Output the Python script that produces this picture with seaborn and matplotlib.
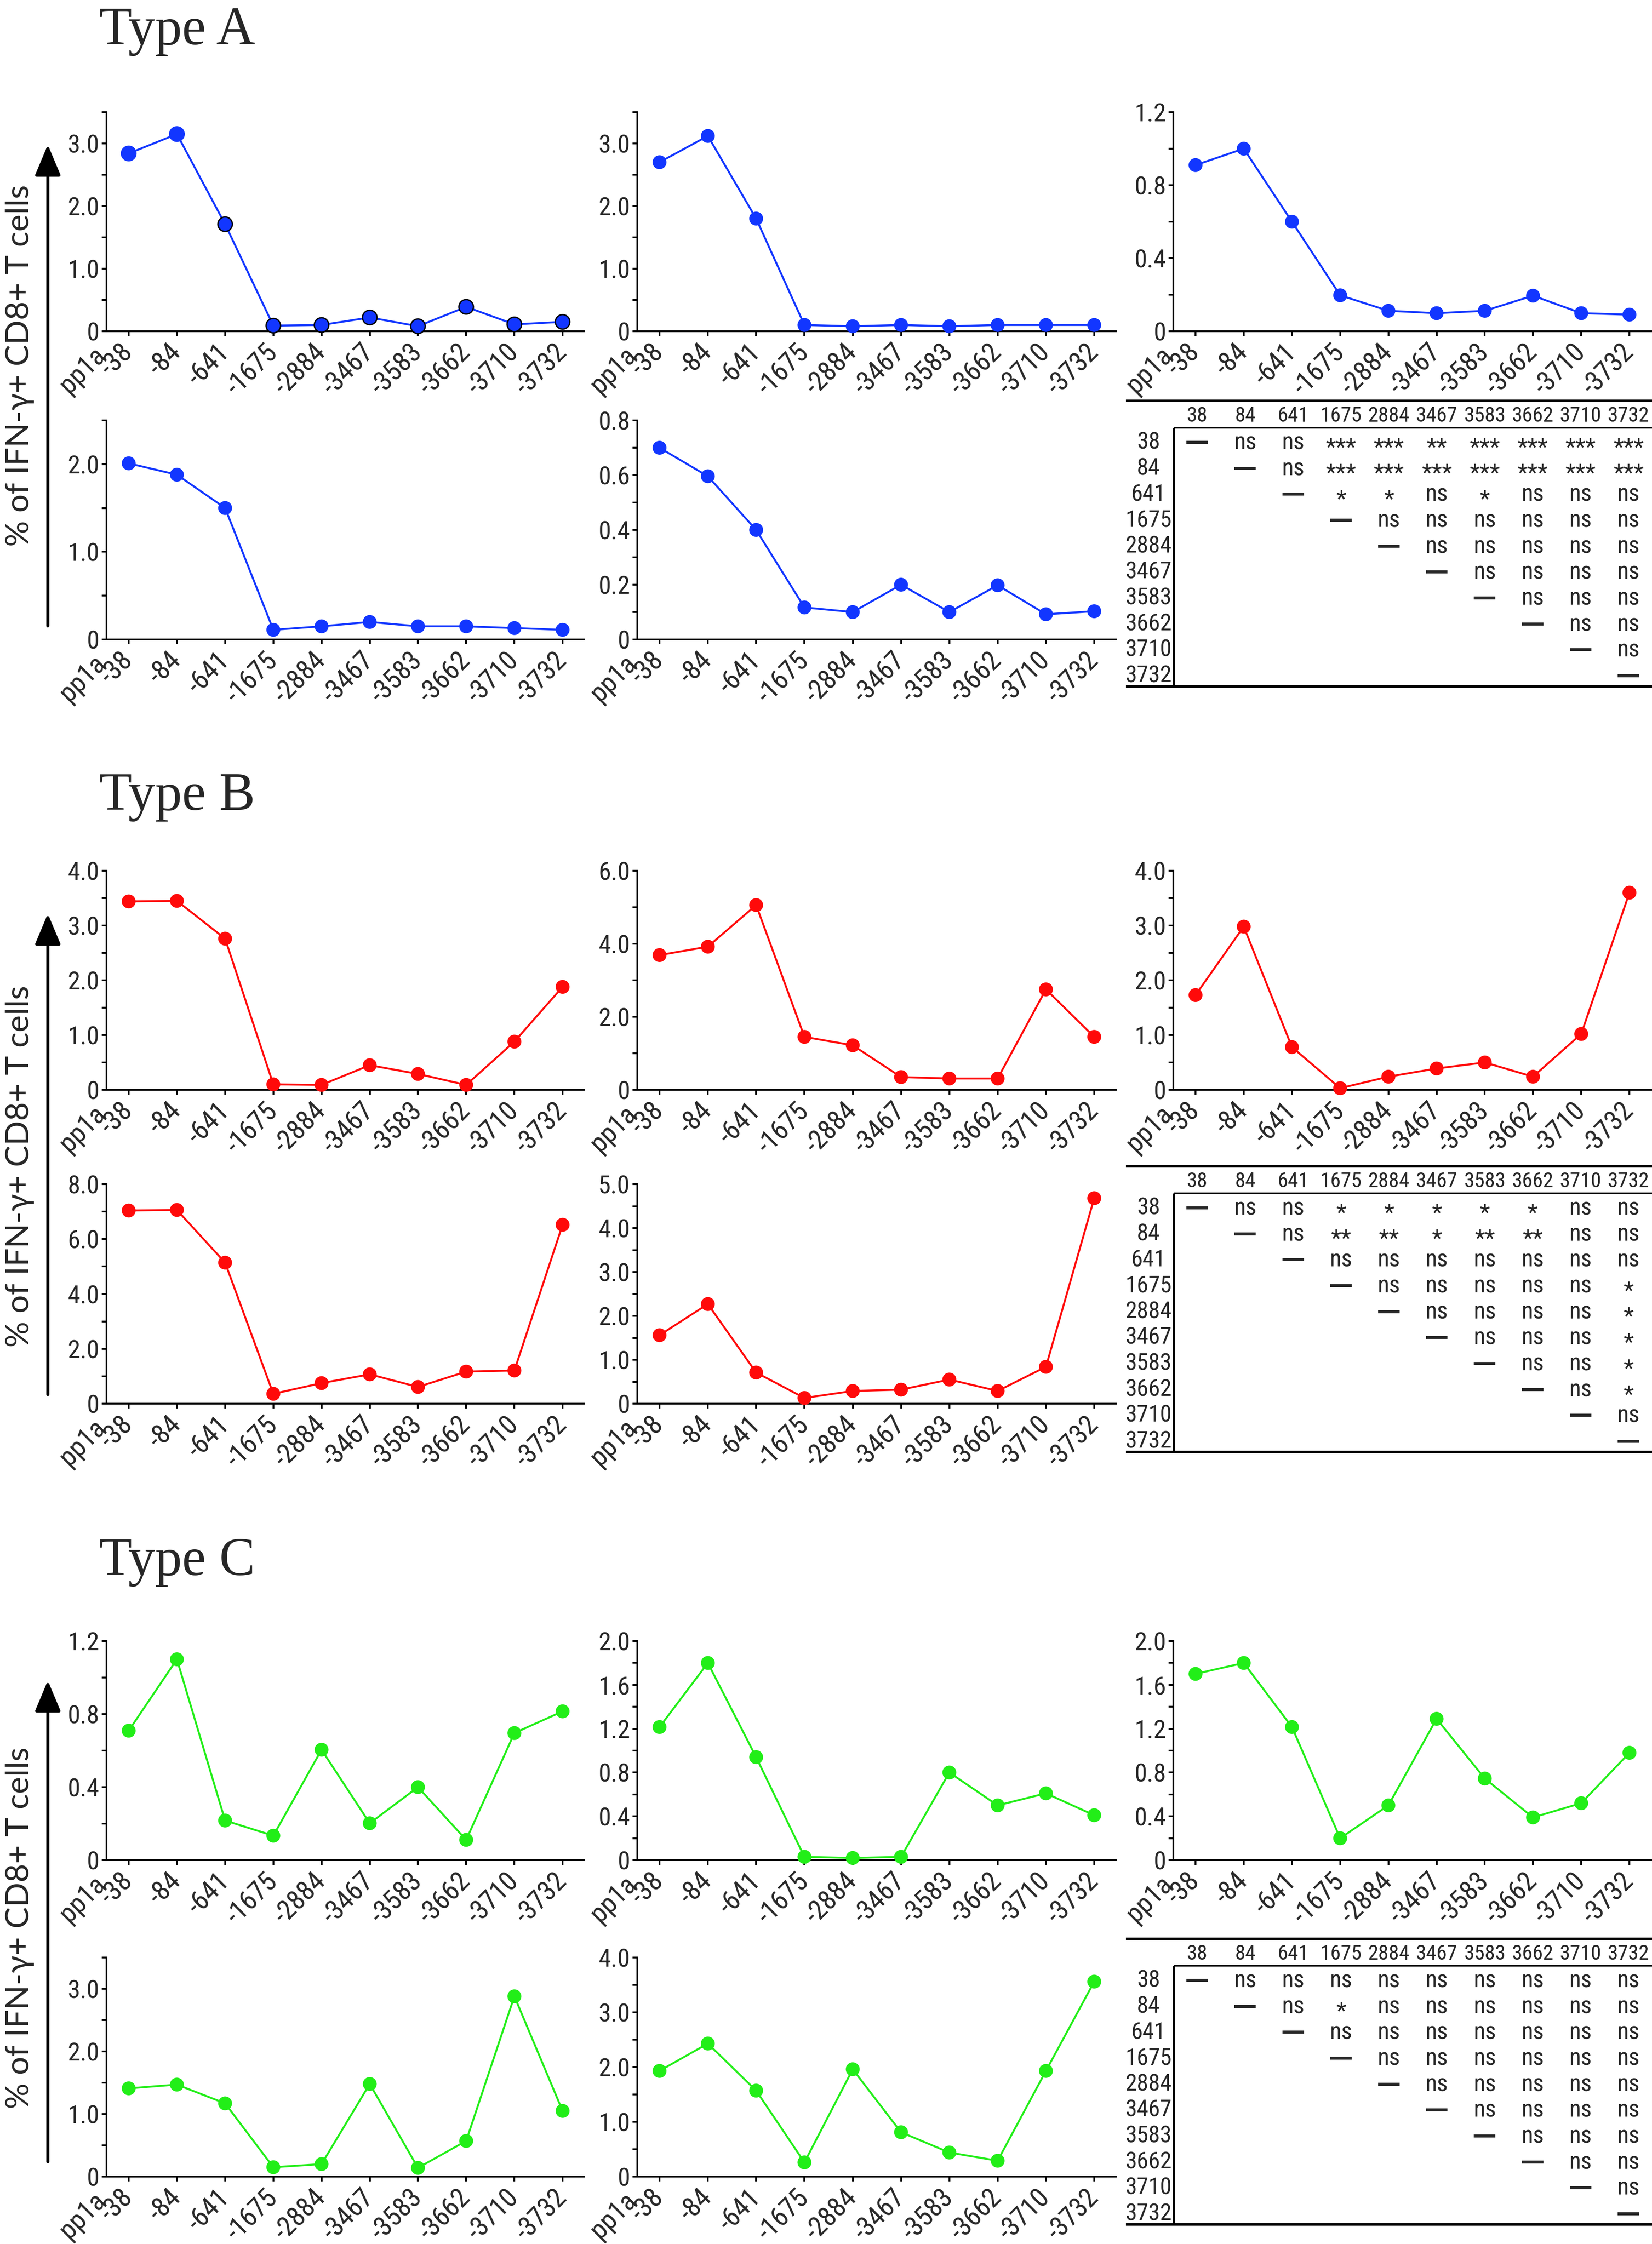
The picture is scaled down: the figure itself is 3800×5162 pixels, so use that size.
import numpy as np
import pandas as pd
import matplotlib
matplotlib.use("Agg")
import matplotlib.pyplot as plt
import seaborn as sns
from matplotlib import font_manager as fm
from matplotlib import transforms as mtransforms
from matplotlib.patches import FancyArrowPatch
from matplotlib.ticker import FixedLocator, FuncFormatter

# ---------------- data ----------------
categories = ['-38', '-84', '-641', '-1675', '-2884', '-3467', '-3583', '-3662', '-3710', '-3732']
first_prefix = 'pp1a'
table_labels = ['38', '84', '641', '1675', '2884', '3467', '3583', '3662', '3710', '3732']
ylabel_text = '% of IFN-\u03b3+ CD8+ T cells'
group_titles = ['Type A', 'Type B', 'Type C']

a1 = [2.84, 3.15, 1.71, 0.09, 0.10, 0.22, 0.08, 0.39, 0.11, 0.15]
a2 = [2.70, 3.12, 1.80, 0.10, 0.08, 0.10, 0.08, 0.10, 0.10, 0.10]
a3 = [0.91, 1.00, 0.60, 0.197, 0.112, 0.099, 0.112, 0.195, 0.099, 0.091]
a4 = [2.01, 1.88, 1.50, 0.11, 0.15, 0.20, 0.15, 0.15, 0.13, 0.11]
a5 = [0.70, 0.596, 0.40, 0.117, 0.10, 0.20, 0.10, 0.198, 0.092, 0.103]

b1 = [3.44, 3.45, 2.76, 0.10, 0.09, 0.45, 0.29, 0.09, 0.88, 1.88]
b2 = [3.69, 3.92, 5.06, 1.45, 1.22, 0.35, 0.31, 0.31, 2.75, 1.45]
b3 = [1.73, 2.98, 0.78, 0.03, 0.24, 0.39, 0.50, 0.24, 1.02, 3.60]
b4 = [7.04, 7.06, 5.14, 0.36, 0.75, 1.07, 0.61, 1.17, 1.21, 6.52]
b5 = [1.56, 2.27, 0.71, 0.13, 0.29, 0.32, 0.55, 0.29, 0.84, 4.68]

c1 = [0.709, 1.10, 0.217, 0.134, 0.605, 0.202, 0.40, 0.111, 0.696, 0.815]
c2 = [1.215, 1.80, 0.94, 0.03, 0.02, 0.03, 0.80, 0.50, 0.61, 0.41]
c3 = [1.70, 1.80, 1.215, 0.20, 0.50, 1.29, 0.745, 0.39, 0.52, 0.98]
c4 = [1.41, 1.47, 1.17, 0.15, 0.20, 1.48, 0.14, 0.57, 2.88, 1.05]
c5 = [1.93, 2.43, 1.57, 0.26, 1.96, 0.81, 0.44, 0.29, 1.93, 3.56]

# y-axis: (top, major step, minor step)
axis_a = [(3.5, 1.0, 0.5), (3.5, 1.0, 0.5), (1.2, 0.4, 0.2), (2.5, 1.0, 0.5), (0.8, 0.2, 0.1)]
axis_b = [(4.0, 1.0, 0.5), (6.0, 2.0, 1.0), (4.0, 1.0, 0.5), (8.0, 2.0, 1.0), (5.0, 1.0, 0.5)]
axis_c = [(1.2, 0.4, 0.2), (2.0, 0.4, 0.2), (2.0, 0.4, 0.2), (3.5, 1.0, 0.5), (4.0, 1.0, 0.5)]

# significance, upper triangle: row i lists columns i+1..9
sig_a = [
    ['ns', 'ns', '***', '***', '**', '***', '***', '***', '***'],
    ['ns', '***', '***', '***', '***', '***', '***', '***'],
    ['*', '*', 'ns', '*', 'ns', 'ns', 'ns'],
    ['ns', 'ns', 'ns', 'ns', 'ns', 'ns'],
    ['ns', 'ns', 'ns', 'ns', 'ns'],
    ['ns', 'ns', 'ns', 'ns'],
    ['ns', 'ns', 'ns'],
    ['ns', 'ns'],
    ['ns'],
    [],
]
sig_b = [
    ['ns', 'ns', '*', '*', '*', '*', '*', 'ns', 'ns'],
    ['ns', '**', '**', '*', '**', '**', 'ns', 'ns'],
    ['ns', 'ns', 'ns', 'ns', 'ns', 'ns', 'ns'],
    ['ns', 'ns', 'ns', 'ns', 'ns', '*'],
    ['ns', 'ns', 'ns', 'ns', '*'],
    ['ns', 'ns', 'ns', '*'],
    ['ns', 'ns', '*'],
    ['ns', '*'],
    ['ns'],
    [],
]
sig_c = [
    ['ns', 'ns', 'ns', 'ns', 'ns', 'ns', 'ns', 'ns', 'ns'],
    ['ns', '*', 'ns', 'ns', 'ns', 'ns', 'ns', 'ns'],
    ['ns', 'ns', 'ns', 'ns', 'ns', 'ns', 'ns'],
    ['ns', 'ns', 'ns', 'ns', 'ns', 'ns'],
    ['ns', 'ns', 'ns', 'ns', 'ns'],
    ['ns', 'ns', 'ns', 'ns'],
    ['ns', 'ns', 'ns'],
    ['ns', 'ns'],
    ['ns'],
    [],
]

# ---------------- style ----------------
sns.set_style('white')
avail = {f.name for f in fm.fontManager.ttflist}
narrow = None
for cand in ['Liberation Sans Narrow', 'Roboto Condensed', 'Open Sans Condensed',
             'Arial Narrow', 'DejaVu Sans Condensed']:
    if cand in avail:
        narrow = cand
        break
if narrow is None:
    plt.rcParams['font.family'] = ['DejaVu Sans']
    plt.rcParams['font.stretch'] = 'condensed'
else:
    plt.rcParams['font.family'] = [narrow, 'DejaVu Sans']
plt.rcParams['axes.unicode_minus'] = False

BLUE, RED, GREEN = '#1236FF', '#FF0A0A', '#22EE18'
W, H = 3800, 5162
fig = plt.figure(figsize=(W / 100, H / 100), dpi=100)
fig.patch.set_facecolor('white')

COLS = [(245, 1344), (1466, 2567), (2699, 3798)]
ROWS = [(258, 762), (967, 1471), (2003, 2507), (2724, 3229), (3775, 4279), (4503, 5007)]
TABLE_TOPS = [922, 2683, 4460]
TITLE_BASE = [102, 1863, 3623]
ARROWS = [(1440, 333), (3208, 2102), (4973, 3866)]
YLAB_C = [841, 2683, 4435]

LW_LINE = 3.2
MS = 23
SPW = 2.9
YTICK_FS = 42
XTICK_FS = 45


def px_axes(x0, y0, x1, y1):
    return fig.add_axes([x0 / W, 1 - y1 / H, (x1 - x0) / W, (y1 - y0) / H])


def yfmt(v, p):
    return '0' if abs(v) < 1e-9 else f'{v:.1f}'


def draw_panel(ax, values, color, cfg, outlined=None):
    top, major, minor = cfg
    df = pd.DataFrame({'pos': np.arange(len(categories)), 'value': values})
    sns.lineplot(data=df, x='pos', y='value', color=color, lw=LW_LINE, sort=False,
                 errorbar=None, ax=ax, zorder=2)
    if outlined is None:
        ec = [color] * len(values)
        ew = 0.0
        size = MS ** 2
    else:
        ec = ['black' if o else color for o in outlined]
        ew = 2.2
        size = 24 ** 2
    sns.scatterplot(data=df, x='pos', y='value', color=color, s=size, edgecolor=ec,
                    linewidth=ew, ax=ax, zorder=3, clip_on=False, legend=False)
    ax.set_xlim(-0.46, 9.45)
    ax.set_ylim(0, top)
    ax.set_xlabel('')
    ax.set_ylabel('')
    ax.set_xticks(np.arange(len(categories)))
    ax.set_xticklabels(categories, rotation=45, ha='right', va='center',
                       rotation_mode='anchor', fontsize=XTICK_FS)
    ax.yaxis.set_major_locator(FixedLocator(np.arange(0, top + 1e-9, major)))
    ax.yaxis.set_minor_locator(FixedLocator(np.arange(0, top + 1e-9, minor)))
    ax.yaxis.set_major_formatter(FuncFormatter(yfmt))
    for s in ['top', 'right']:
        ax.spines[s].set_visible(False)
    for s in ['left', 'bottom']:
        ax.spines[s].set_linewidth(SPW)
        ax.spines[s].set_color('black')
    ax.tick_params(axis='both', which='both', direction='out', length=8, width=SPW,
                   color='black', left=True, bottom=True)
    ax.tick_params(axis='x', which='minor', bottom=False)
    ax.tick_params(axis='y', which='major', labelsize=YTICK_FS, pad=4)
    ax.tick_params(axis='x', which='major', labelsize=XTICK_FS, pad=20)
    ax.set_facecolor('none')
    ax.annotate(first_prefix, xy=(0, 0), xycoords=('data', 'axes fraction'),
                xytext=(-45, -33), textcoords='offset points', rotation=45,
                ha='right', va='center', rotation_mode='anchor', fontsize=XTICK_FS,
                annotation_clip=False)


# table layout (column units = 110.2 px, row units = 59.7 px)
T_XL, T_XR = -1.488, 9.492
T_TOP, T_HEAD, T_UNDER, T_BOT = -1.608, -1.022, -0.570, 9.40
T_VX, T_ROWLAB_X = -0.49, -1.016
STAR_FS = 39


def draw_table(top_px, sig):
    ax = px_axes(2590, top_px - 15, 3800, top_px + 672)
    ax.set_xlim(T_XL, T_XR)
    ax.set_ylim(T_BOT + 15 / 59.7, T_TOP - 15 / 59.7)
    ax.axis('off')
    kw = dict(color='black', solid_capstyle='butt', clip_on=False)
    ax.plot([T_XL, T_XR], [T_TOP, T_TOP], lw=4.0, **kw)
    ax.plot([T_XL, T_XR], [T_BOT, T_BOT], lw=4.2, **kw)
    ax.plot([T_VX, T_XR], [T_UNDER, T_UNDER], lw=2.6, **kw)
    ax.plot([T_VX, T_VX], [T_UNDER, T_BOT], lw=3.6, **kw)
    star_tr = mtransforms.offset_copy(ax.transData, fig=fig, x=0, y=-0.24 * STAR_FS,
                                      units='points')
    for j, lab in enumerate(table_labels):
        ax.text(j, T_HEAD, lab, ha='center', va='center', fontsize=35)
        ax.text(T_ROWLAB_X, j, lab, ha='center', va='center', fontsize=39)
        ax.text(j, j, '\u2014', ha='center', va='center', fontsize=40,
                family=['DejaVu Sans'], fontweight='bold')
    for i, row in enumerate(sig):
        for k, s in enumerate(row):
            j = i + 1 + k
            if s.startswith('*'):
                ax.text(j, i, s, ha='center', va='center', fontsize=STAR_FS,
                        transform=star_tr)
            else:
                ax.text(j, i, s, ha='center', va='center', fontsize=40)


groups = [
    (BLUE, [a1, a2, a3, a4, a5], axis_a, sig_a),
    (RED, [b1, b2, b3, b4, b5], axis_b, sig_b),
    (GREEN, [c1, c2, c3, c4, c5], axis_c, sig_c),
]
a1_outlined = [False, False, True, True, True, True, True, True, True, True]

for g, (color, series, cfgs, sig) in enumerate(groups):
    r_up, r_lo = ROWS[2 * g], ROWS[2 * g + 1]
    slots = [(r_up, 0), (r_up, 1), (r_up, 2), (r_lo, 0), (r_lo, 1)]
    for p, ((y0, y1), c) in enumerate(slots):
        x0, x1 = COLS[c]
        ax = px_axes(x0, y0, x1, y1)
        outl = a1_outlined if (g == 0 and p == 0) else None
        draw_panel(ax, series[p], color, cfgs[p], outl)
    draw_table(TABLE_TOPS[g], sig)
    fig.text(228 / W, 1 - TITLE_BASE[g] / H, group_titles[g], ha='left', va='baseline',
             fontsize=89, family=['Liberation Serif', 'DejaVu Serif'])
    yb, yt = ARROWS[g]
    arr = FancyArrowPatch((110 / W, 1 - yb / H), (110 / W, 1 - yt / H),
                          transform=fig.transFigure,
                          arrowstyle='-|>,head_length=44,head_width=18.5',
                          mutation_scale=1, lw=5, color='black',
                          shrinkA=0, shrinkB=0)
    fig.add_artist(arr)

ylabs = [fig.text(46 / W, 1 - yc / H, ylabel_text, rotation=90, ha='center', va='center',
                  fontsize=50, family=['Lato', 'DejaVu Sans']) for yc in YLAB_C]
fig.canvas.draw()
rend = fig.canvas.get_renderer()
hh = ylabs[0].get_window_extent(rend).height
for t in ylabs:
    t.set_fontsize(50 * 833 / hh)

fig.savefig('out.png', dpi=100, facecolor='white')
